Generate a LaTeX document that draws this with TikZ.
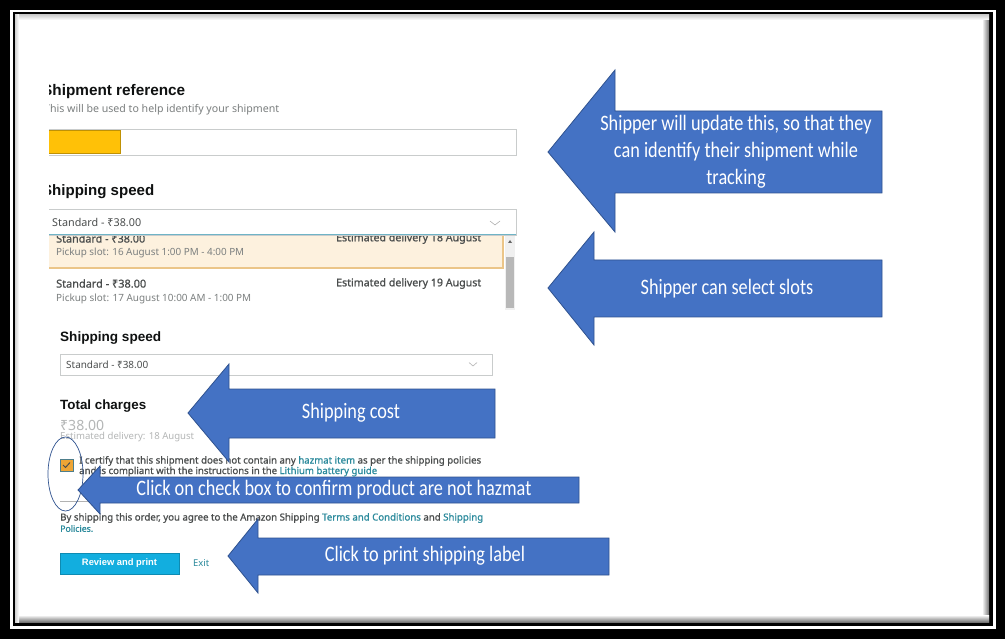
\documentclass[tikz,border=0pt]{standalone}
\usepackage{fontspec}
\usepackage{graphicx}
\setmainfont{Noto Sans}
\newfontfamily\callfont[FakeStretch=0.83]{Carlito}
\newfontfamily\headfont{Liberation Sans}
\newfontfamily\medfont[FakeBold=0.9]{Noto Sans}
\definecolor{arrowblue}{HTML}{4472C4}
\definecolor{arrowedge}{HTML}{2F528F}
\definecolor{inkdark}{HTML}{0F1111}
\definecolor{inkgray}{HTML}{4A4D4D}
\definecolor{inksoft}{HTML}{7B7F7F}
\definecolor{inklight}{HTML}{B4B6B6}
\definecolor{linkteal}{HTML}{2B8A9C}
\definecolor{boxgray}{HTML}{C9CCCC}
\definecolor{refyellow}{HTML}{FFC107}
\definecolor{rowfill}{HTML}{FDF1DE}
\definecolor{rowedge}{HTML}{EBC588}
\definecolor{btncyan}{HTML}{12AEDF}
\definecolor{focusteal}{HTML}{6FB4C6}
\definecolor{checkorange}{HTML}{EFA535}
\newcommand\uiw[2]{\resizebox{#1pt}{!}{#2}}
\tikzset{
  callout/.style={fill=arrowblue, draw=arrowedge, line width=0.8pt, line join=miter},
  calltext/.style={text=white, font=\callfont\fontsize{22}{27}\selectfont, align=center, inner sep=0pt},
  ui/.style={anchor=west, inner sep=0pt},
  uibox/.style={draw=boxgray, fill=white, line width=0.8pt},
  chev/.style={draw=gray!60, line width=0.6pt}
}
\begin{document}
\begin{tikzpicture}[x=1pt,y=-1pt]
\useasboundingbox (0,0) rectangle (1005,639);
% frame
\fill[black] (0,0) rectangle (1005,639);
\fill[white] (10,10) rectangle (996,629);
\fill[black] (12.5,12.5) rectangle (993,626);
\fill[white] (15,15) rectangle (989,622);
\shade[left color=white, right color=black!55] (982,15) rectangle (989,622);
\shade[top color=white, bottom color=black!55] (15,615) rectangle (989,622);
\shade[top color=black!18, bottom color=white] (15,15) rectangle (989,20);
\shade[left color=black!18, right color=white] (15,15) rectangle (19,622);

% upper screenshot (clipped at left)
\begin{scope}
\clip (49,60) rectangle (530,320);
\node[ui, text=inkdark] (refhead) at (42,92) {\uiw{143}{\headfont\bfseries Shipment reference}};
\node[ui, text=inksoft] (refsub) at (44,110) {\uiw{235}{This will be used to help identify your shipment}};
\draw[uibox] (40,129) rectangle (516,155);
\fill[refyellow] (40,130.5) rectangle (120.5,153.5);
\draw[refyellow!75!black, line width=0.6pt] (40,130.5) rectangle (120.5,153.5);
\node[ui, text=inkdark] (speedhead) at (42,192) {\uiw{112}{\headfont\bfseries Shipping speed}};
% slot list
\draw[rowedge, fill=rowfill, line width=1.2pt] (40,228) rectangle (503,268);
\node[ui, text=inkgray] (r1a) at (56,238.5) {\uiw{89}{\medfont Standard - ₹38.00}};
\node[ui, text=inkgray] (r1b) at (336,238.5) {\uiw{145}{\medfont Estimated delivery 18 August}};
\node[ui, text=inksoft] (r1c) at (56,253) {\uiw{188}{Pickup slot: 16 August 1:00 PM - 4:00 PM}};
\node[ui, text=inkgray] (r2a) at (56,283.5) {\uiw{90}{\medfont Standard - ₹38.00}};
\node[ui, text=inkgray] (r2b) at (336,283.5) {\uiw{145}{\medfont Estimated delivery 19 August}};
\node[ui, text=inksoft] (r2c) at (56,298.5) {\uiw{195}{Pickup slot: 17 August 10:00 AM - 1:00 PM}};
\fill[black!6] (505,236) rectangle (515,310);
\fill[black!28] (506,257) rectangle (514,308);
\fill[black!60] (508,243) -- (512,243) -- (510,240) -- cycle;
% dropdown on top
\draw[uibox] (40,209) rectangle (516,235);
\draw[focusteal, line width=1.6pt] (40,234.5) -- (516,234.5);
\node[ui, text=inkgray] (dd1) at (52,222.5) {\uiw{89}{Standard - ₹38.00}};
\draw[chev] (490,221) -- (495,225) -- (500,221);
\end{scope}

% lower screenshot
\node[ui, text=inkdark] (speed2) at (60,338) {\uiw{101}{\headfont\bfseries Shipping speed}};
\draw[uibox] (60,354) rectangle (492,375);
\node[ui, text=inkgray] (dd2) at (66,364.5) {\uiw{82}{Standard - ₹38.00}};
\draw[chev] (469,362.5) -- (473,366) -- (477,362.5);
\node[ui, text=inkdark] (total) at (60,406) {\uiw{86}{\headfont\bfseries Total charges}};
\node[ui, text=inklight] (price) at (60,425) {\uiw{44}{₹38.00}};
\node[ui, text=inklight] (estdel) at (60,437.5) {\uiw{134}{Estimated delivery: 18 August}};
\draw[focusteal!70!black, fill=checkorange, line width=0.8pt] (60,459) rectangle (73,471);
\draw[inkgray, line width=1pt] (63,465) -- (65.5,467.5) -- (70,462.5);
\node[ui, text=inkgray] (cert1) at (79,461) {\uiw{402}{\medfont I certify that this shipment does not contain any \textcolor{linkteal}{hazmat item} as per the shipping policies}};
\node[ui, text=inkgray] (cert2) at (79,471.5) {\uiw{298}{\medfont and is compliant with the instructions in the \textcolor{linkteal}{Lithium battery guide}}};
\draw[black!30, line width=0.8pt] (60,501) -- (100,501);
\node[ui, text=inkgray] (agree1) at (60,518) {\uiw{423}{\medfont By shipping this order, you agree to the Amazon Shipping \textcolor{linkteal}{Terms and Conditions} and \textcolor{linkteal}{Shipping}}};
\node[ui, text=linkteal] (agree2) at (60,528.5) {\uiw{33}{\medfont Policies.}};
\draw[btncyan!80!black, fill=btncyan, line width=0.8pt] (60,553) rectangle (179,574);
\node[text=white, inner sep=0pt] (review) at (119.5,563.5) {\uiw{75}{\headfont\bfseries Review and print}};
\node[ui, text=linkteal] (exit) at (193,563.5) {\uiw{16}{Exit}};
\draw[arrowedge, line width=0.7pt] (65.5,474) ellipse [x radius=17.5, y radius=37];

% callout arrows
\draw[callout] (548,152) -- (615,70) -- (615,111) -- (882,111) -- (882,193) -- (615,193) -- (615,232) -- cycle;
\node[calltext] (t1) at (736,152) {Shipper will update this, so that they\\can identify their shipment while\\tracking};
\draw[callout] (548,288) -- (594,232) -- (594,260) -- (882,260) -- (882,317) -- (594,317) -- (594,345) -- cycle;
\node[calltext] (t2) at (727,289) {Shipper can select slots};
\draw[callout] (188,413) -- (229,364) -- (229,389) -- (495,389) -- (495,438) -- (229,438) -- (229,462) -- cycle;
\node[calltext] (t3) at (351,413) {Shipping cost};
\draw[callout] (78,490) -- (100,466) -- (100,477) -- (579,477) -- (579,503) -- (100,503) -- (100,514) -- cycle;
\node[calltext] (t4) at (334,490) {Click on check box to confirm product are not hazmat};
\draw[callout] (228,556) -- (258,519) -- (258,538) -- (609,538) -- (609,575) -- (258,575) -- (258,593) -- cycle;
\node[calltext] (t5) at (425,556) {Click to print shipping label};
\end{tikzpicture}
\end{document}
